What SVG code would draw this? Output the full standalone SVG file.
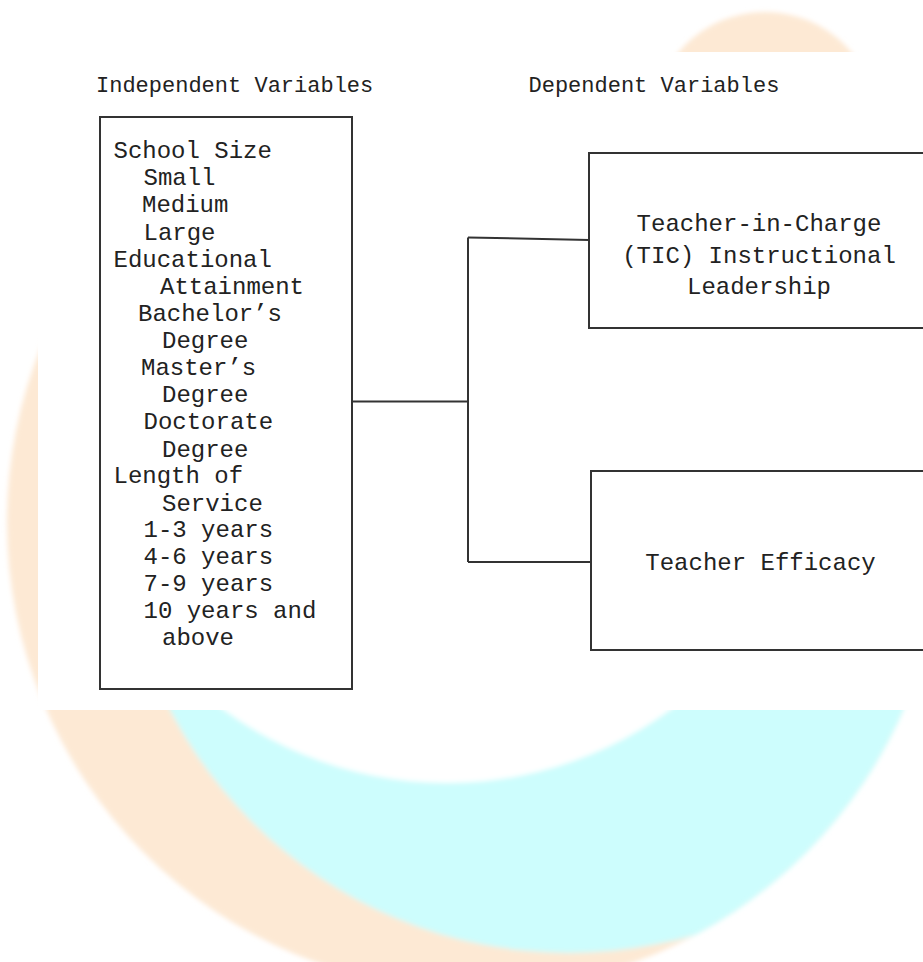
<svg xmlns="http://www.w3.org/2000/svg" width="923" height="962" viewBox="0 0 923 962">
  <defs>
    <style>
      .hdr { font-family: "Liberation Mono", "Courier New", monospace; font-size: 22px; fill: #222; }
      .txt { font-family: "Liberation Mono", "Courier New", monospace; font-size: 24px; fill: #222; }
      .ctr { text-anchor: middle; }
      .box { fill: #ffffff; stroke: #333; stroke-width: 2; }
      .conn { fill: none; stroke: #333; stroke-width: 2; }
    </style>
    <clipPath id="outerClip">
      <circle cx="475" cy="522" r="468"/>
    </clipPath>
    <filter id="soft" x="-5%" y="-5%" width="110%" height="110%">
      <feGaussianBlur stdDeviation="2.5"/>
    </filter>
  </defs>

  <rect x="0" y="0" width="923" height="962" fill="#ffffff"/>

  <!-- watermark background -->
  <g id="watermark" filter="url(#soft)">
    <circle cx="765" cy="125" r="113" fill="#fde9d4"/>
    <circle cx="475" cy="522" r="468" fill="#fde9d4"/>
    <g clip-path="url(#outerClip)">
      <circle cx="569" cy="504" r="449" fill="#cdfdfd"/>
    </g>
    <circle cx="447" cy="406" r="377" fill="#ffffff"/>
  </g>
  <rect x="38" y="52" width="890" height="658" fill="#ffffff"/>

  <!-- headers -->
  <g id="headers">
    <text class="hdr" x="96" y="91.5">Independent Variables</text>
    <text class="hdr" x="528.5" y="91.5">Dependent Variables</text>
  </g>

  <!-- connectors -->
  <g id="connectors">
    <path class="conn" d="M352,401.5 H468"/>
    <path class="conn" d="M468,237.5 V562"/>
    <path class="conn" d="M468,237.5 L589,240"/>
    <path class="conn" d="M468,562 H591"/>
  </g>

  <!-- independent variables node -->
  <g id="independent">
    <rect class="box" x="100" y="117" width="252" height="572"/>
    <text class="txt" x="113.5" y="157.5">School Size</text>
    <text class="txt" x="143.5" y="185">Small</text>
    <text class="txt" x="142" y="212">Medium</text>
    <text class="txt" x="143.5" y="239.5">Large</text>
    <text class="txt" x="113.5" y="266.5">Educational</text>
    <text class="txt" x="160" y="294">Attainment</text>
    <text class="txt" x="138" y="320.5">Bachelor’s</text>
    <text class="txt" x="162" y="348">Degree</text>
    <text class="txt" x="141" y="375">Master’s</text>
    <text class="txt" x="162" y="402">Degree</text>
    <text class="txt" x="143.5" y="429">Doctorate</text>
    <text class="txt" x="162" y="456.5">Degree</text>
    <text class="txt" x="113.5" y="483">Length of</text>
    <text class="txt" x="162" y="510.5">Service</text>
    <text class="txt" x="143.5" y="537">1-3 years</text>
    <text class="txt" x="143.5" y="563.5">4-6 years</text>
    <text class="txt" x="143.5" y="590.5">7-9 years</text>
    <text class="txt" x="143.5" y="617.5">10 years and</text>
    <text class="txt" x="162" y="645">above</text>
  </g>

  <!-- TIC node -->
  <g id="tic">
    <rect class="box" x="589" y="153" width="345" height="175"/>
    <text class="txt ctr" x="759" y="231">Teacher-in-Charge</text>
    <text class="txt ctr" x="759" y="262.5">(TIC) Instructional</text>
    <text class="txt ctr" x="759" y="294">Leadership</text>
  </g>

  <!-- efficacy node -->
  <g id="efficacy">
    <rect class="box" x="591" y="471" width="345" height="179"/>
    <text class="txt ctr" x="760.5" y="569.5">Teacher Efficacy</text>
  </g>
</svg>
